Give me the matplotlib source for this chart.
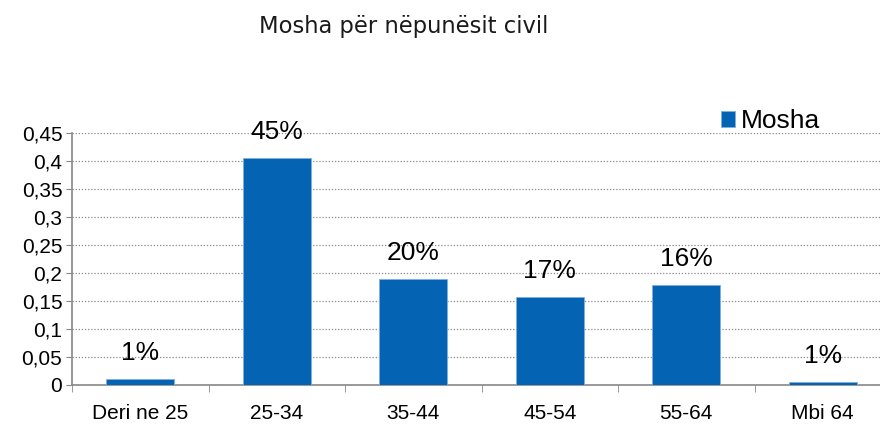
import matplotlib
matplotlib.use("Agg")
import matplotlib.pyplot as plt
from matplotlib.ticker import MultipleLocator, FuncFormatter

categories = ["Deri ne 25", "25-34", "35-44", "45-54", "55-64", "Mbi 64"]
values = [0.011, 0.406, 0.189, 0.157, 0.178, 0.005]
labels = ["1%", "45%", "20%", "17%", "16%", "1%"]

blue = "#0563B4"
W, H = 880, 424

fig = plt.figure(figsize=(W / 100, H / 100), dpi=100)
# axes run past the right edge, like the cropped original
ax = fig.add_axes([72 / W, 1 - 385 / H, 819 / W, 252 / H])

x = list(range(len(categories)))
ax.bar(x, values, width=0.5, color=blue, edgecolor="#7fb0de", linewidth=0.6,
       zorder=3, label="Mosha")

for xi, v, lab in zip(x, values, labels):
    ax.annotate(lab, (xi, v), xytext=(0, 26), textcoords="offset pixels",
                ha="center", va="center", fontsize=19,
                family="Liberation Sans", zorder=4)

ax.set_xlim(-0.5, len(categories) - 0.5)
ax.set_ylim(0, 0.45)
ax.yaxis.set_major_locator(MultipleLocator(0.05))
ax.yaxis.set_major_formatter(FuncFormatter(
    lambda v, p: ("%g" % round(v, 2)).replace(".", ",")))
ax.grid(axis="y", linestyle=(0, (1, 1.5)), color="#888888", linewidth=0.9, zorder=0)

ax.set_xticks(x)
ax.set_xticklabels(categories)
ax.set_xticks([i + 0.5 for i in x[:-1]] + [-0.5], minor=True)
ax.tick_params(axis="x", which="major", length=0, pad=14, labelsize=15)
ax.tick_params(axis="x", which="minor", length=5, color="#888888", direction="out")
ax.tick_params(axis="y", length=4, color="#888888", labelsize=15, pad=3)
for lbl in ax.get_xticklabels() + ax.get_yticklabels():
    lbl.set_family("Liberation Sans")

for side in ["top", "right"]:
    ax.spines[side].set_visible(False)
for side in ["left", "bottom"]:
    ax.spines[side].set_color("#888888")
    ax.spines[side].set_linewidth(1.2)

leg = fig.legend(loc="center left", bbox_to_anchor=(697 / W, 1 - 121 / H),
                 frameon=False, handlelength=0.55, handleheight=0.55,
                 handletextpad=0.2, prop={"family": "Liberation Sans", "size": 19})

fig.text(404 / W, 1 - 27 / H, "Mosha për nëpunësit civil", ha="center",
         va="center", fontsize=16.3, family="DejaVu Sans", color="#1a1a1a")

fig.savefig("out.png", dpi=100)
